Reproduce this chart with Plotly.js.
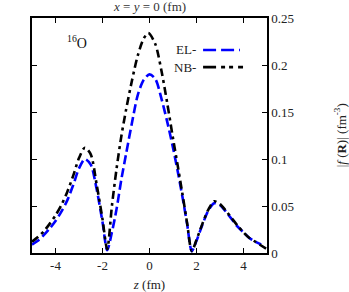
<!DOCTYPE html>
<html>
<head>
<meta charset="utf-8">
<script src="https://cdn.plot.ly/plotly-3.0.1.min.js"></script>
<style>html,body{margin:0;padding:0;background:#fff;font-family:'Liberation Serif',serif;}#plot{width:349px;height:292px;}</style>
</head>
<body>
<div id="plot"></div>
<script>
// z positions (fm)
const zEL = [-5, -4.75, -4.5, -4.25, -4, -3.75, -3.5, -3.25, -3, -2.75, -2.5, -2.25, -2, -1.8,
  -1.6, -1.4, -1.2, -1, -0.75, -0.5, -0.25, 0, 0.25, 0.5, 0.75, 1, 1.2, 1.4, 1.6, 1.8,
  2, 2.25, 2.5, 2.75, 3, 3.25, 3.5, 3.75, 4, 4.25, 4.5, 4.75];
const fEL = [0.009, 0.013, 0.019, 0.026, 0.034, 0.044, 0.056, 0.072, 0.090, 0.100, 0.094, 0.068, 0.033, 0.003,
  0.022, 0.047, 0.078, 0.105, 0.138, 0.168, 0.184, 0.190, 0.185, 0.165, 0.140, 0.112, 0.087, 0.060, 0.031, 0.002,
  0.013, 0.030, 0.045, 0.053, 0.051, 0.044, 0.036, 0.028, 0.022, 0.016, 0.012, 0.009];
const zNB = [-5, -4.75, -4.5, -4.25, -4, -3.75, -3.5, -3.25, -3, -2.75, -2.5, -2.25, -2, -1.8,
  -1.6, -1.4, -1.2, -1, -0.75, -0.5, -0.25, -0.05, 0.25, 0.5, 0.75, 1, 1.2, 1.4, 1.6, 1.8,
  2, 2.25, 2.5, 2.75, 3, 3.25, 3.5, 3.75, 4, 4.25, 4.5, 4.75, 5];
const fNB = [0.012, 0.017, 0.023, 0.031, 0.040, 0.051, 0.065, 0.082, 0.101, 0.112, 0.105, 0.073, 0.036, 0.004,
  0.050, 0.090, 0.124, 0.152, 0.183, 0.210, 0.228, 0.234, 0.222, 0.195, 0.160, 0.122, 0.093, 0.063, 0.032, 0.002,
  0.014, 0.031, 0.046, 0.055, 0.052, 0.045, 0.037, 0.029, 0.022, 0.016, 0.012, 0.008, 0.004];
const seriesNames = ['EL-', 'NB-'];
const xTicks = [-4, -2, 0, 2, 4];
const xTickText = ['-4', '-2', '0', '2', '4'];
const yTicks = [0, 0.05, 0.1, 0.15, 0.2, 0.25];
const yTickText = ['0', '0.05', '0.1', '0.15', '0.2', '0.25'];

const FONT = 'Liberation Serif';
const TXT = {family: FONT, size: 13, color: '#222'};
const traces = [
  {x: zEL, y: fEL, mode: 'lines', name: seriesNames[0], cliponaxis: true,
   line: {color: '#0000ff', width: 2.6, dash: '9px,4px', shape: 'spline', smoothing: 0.8}},
  {x: zNB, y: fNB, mode: 'lines', name: seriesNames[1], cliponaxis: true,
   line: {color: '#000000', width: 2.6, dash: '8px,4px,3px,4px', shape: 'spline', smoothing: 0.8}}
];
const axisCommon = {showgrid: false, zeroline: false, showline: true, linecolor: '#000', linewidth: 1.6,
  mirror: 'ticks', ticks: 'inside', ticklen: 5, tickwidth: 1, tickcolor: '#000',
  tickfont: TXT, tickmode: 'array'};
const layout = {
  width: 349, height: 292,
  margin: {l: 32, r: 82, t: 18, b: 39},
  paper_bgcolor: '#fff', plot_bgcolor: '#fff',
  showlegend: false,
  font: TXT,
  xaxis: Object.assign({}, axisCommon, {range: [-5, 5], tickvals: xTicks, ticktext: xTickText,
    title: {text: '<i>z</i> (fm)', font: TXT}}),
  yaxis: Object.assign({}, axisCommon, {range: [0, 0.25], side: 'right', tickvals: yTicks, ticktext: yTickText}),
  annotations: [
    {xref: 'paper', yref: 'paper', x: 0.5, y: 1, yanchor: 'bottom', yshift: 2, showarrow: false,
     text: '<i>x</i> = <i>y</i> = 0 (fm)', font: {family: FONT, size: 13, color: '#333'}},
    {xref: 'paper', yref: 'paper', x: 1.31, y: 0.5, xanchor: 'center', yanchor: 'middle', textangle: -90, showarrow: false,
     text: '|<i>f</i> (<b>R</b>)| (fm<sup>-3</sup>)', font: TXT},
    {xref: 'paper', yref: 'paper', x: 0.14, y: 0.9, xanchor: 'left', yanchor: 'middle', showarrow: false,
     text: '<sup>16</sup>O', font: {family: FONT, size: 14, color: '#111'}},
    {xref: 'paper', yref: 'paper', x: 0.705, y: 0.864, xanchor: 'right', yanchor: 'middle', showarrow: false,
     text: seriesNames[0], font: TXT},
    {xref: 'paper', yref: 'paper', x: 0.705, y: 0.791, xanchor: 'right', yanchor: 'middle', showarrow: false,
     text: seriesNames[1], font: TXT}
  ],
  shapes: [
    {type: 'line', xref: 'paper', yref: 'paper', x0: 0.728, x1: 0.885, y0: 0.864, y1: 0.864,
     line: {color: '#0000ff', width: 2.6, dash: '13px,5px'}},
    {type: 'line', xref: 'paper', yref: 'paper', x0: 0.728, x1: 0.898, y0: 0.791, y1: 0.791,
     line: {color: '#000', width: 2.6, dash: '13px,5px,4px,4px,4px,5px'}}
  ]
};
Plotly.newPlot('plot', traces, layout, {displayModeBar: false, staticPlot: true});
</script>
</body>
</html>
